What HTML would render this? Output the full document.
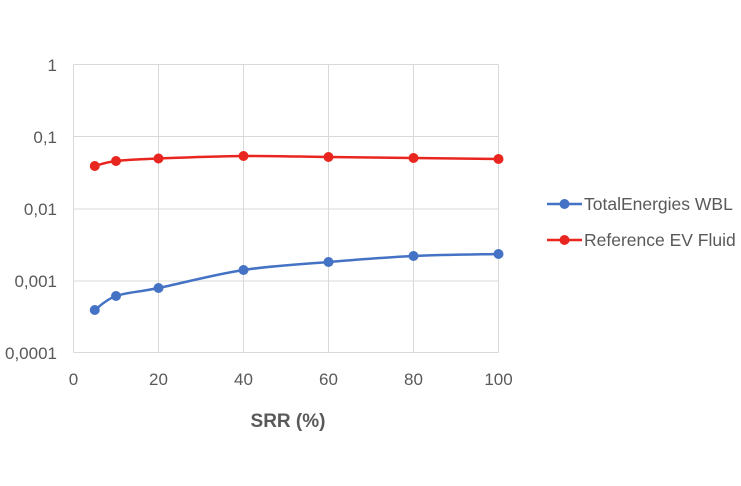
<!DOCTYPE html>
<html><head><meta charset="utf-8"><style>
html,body{margin:0;padding:0;background:#fff;}
svg{display:block;font-family:"Liberation Sans",Calibri,sans-serif;}
</style></head><body>
<svg id="s" width="741" height="486" viewBox="0 0 741 486" xmlns="http://www.w3.org/2000/svg">
<g stroke="#d9d9d9" stroke-width="1" fill="none">
<line x1="73.5" y1="64.5" x2="498.5" y2="64.5"/>
<line x1="73.5" y1="136.5" x2="498.5" y2="136.5"/>
<line x1="73.5" y1="209" x2="498.5" y2="209"/>
<line x1="73.5" y1="281" x2="498.5" y2="281"/>
<line x1="73.5" y1="352.5" x2="498.5" y2="352.5"/>
<line x1="73.5" y1="64.5" x2="73.5" y2="352.5"/>
<line x1="158.5" y1="64.5" x2="158.5" y2="352.5"/>
<line x1="243.5" y1="64.5" x2="243.5" y2="352.5"/>
<line x1="328.5" y1="64.5" x2="328.5" y2="352.5"/>
<line x1="413.5" y1="64.5" x2="413.5" y2="352.5"/>
<line x1="498.5" y1="64.5" x2="498.5" y2="352.5"/>
</g>
<g fill="#595959" font-size="17" text-anchor="end">
<text x="57" y="71">1</text>
<text x="57" y="143">0,1</text>
<text x="57" y="215">0,01</text>
<text x="57" y="287">0,001</text>
<text x="57" y="359">0,0001</text>
</g>
<g fill="#595959" font-size="17" text-anchor="middle">
<text x="73.5" y="385">0</text>
<text x="158.5" y="385">20</text>
<text x="243.5" y="385">40</text>
<text x="328.5" y="385">60</text>
<text x="413.5" y="385">80</text>
<text x="498.5" y="385">100</text>
</g>
<text x="288" y="427" text-anchor="middle" font-size="19" font-weight="bold" fill="#595959">SRR (%)</text>
<g id="series"></g>
<line x1="547" y1="204" x2="582" y2="204" stroke="#4472c4" stroke-width="2.5"/>
<circle cx="564.5" cy="204" r="5" fill="#4472c4"/>
<text x="584" y="210" font-size="17.5" fill="#595959">TotalEnergies WBL</text>
<line x1="547" y1="240" x2="582" y2="240" stroke="#e8261f" stroke-width="2.5"/>
<circle cx="564.5" cy="240" r="5" fill="#e8261f"/>
<text x="584" y="246" font-size="17.5" fill="#595959">Reference EV Fluid</text>
</svg>
<script>
function X(v){return 73.5+v*4.25;}
var xs=[5,10,20,40,60,80,100];
var data=[["#e8261f",[166,161,158.5,156,157,158,159]],["#4472c4",[310,296,288,270,262,256,254]]];
var g=document.getElementById("series"),ns="http://www.w3.org/2000/svg";
data.forEach(function(d){
 var p=xs.map(function(x,i){return [X(x),d[1][i]];});
 var s="M"+p[0][0]+","+p[0][1];
 for(var i=0;i<p.length-1;i++){
  var p0=p[i-1]||p[i],p1=p[i],p2=p[i+1],p3=p[i+2]||p2,t=6;
  s+=" C"+(p1[0]+(p2[0]-p0[0])/t)+","+(p1[1]+(p2[1]-p0[1])/t)+" "+(p2[0]-(p3[0]-p1[0])/t)+","+(p2[1]-(p3[1]-p1[1])/t)+" "+p2[0]+","+p2[1];
 }
 var path=document.createElementNS(ns,"path");
 path.setAttribute("d",s);path.setAttribute("fill","none");path.setAttribute("stroke",d[0]);path.setAttribute("stroke-width","2.5");
 g.appendChild(path);
 p.forEach(function(q){var c=document.createElementNS(ns,"circle");c.setAttribute("cx",q[0]);c.setAttribute("cy",q[1]);c.setAttribute("r","5");c.setAttribute("fill",d[0]);g.appendChild(c);});
});
</script>
</body></html>
